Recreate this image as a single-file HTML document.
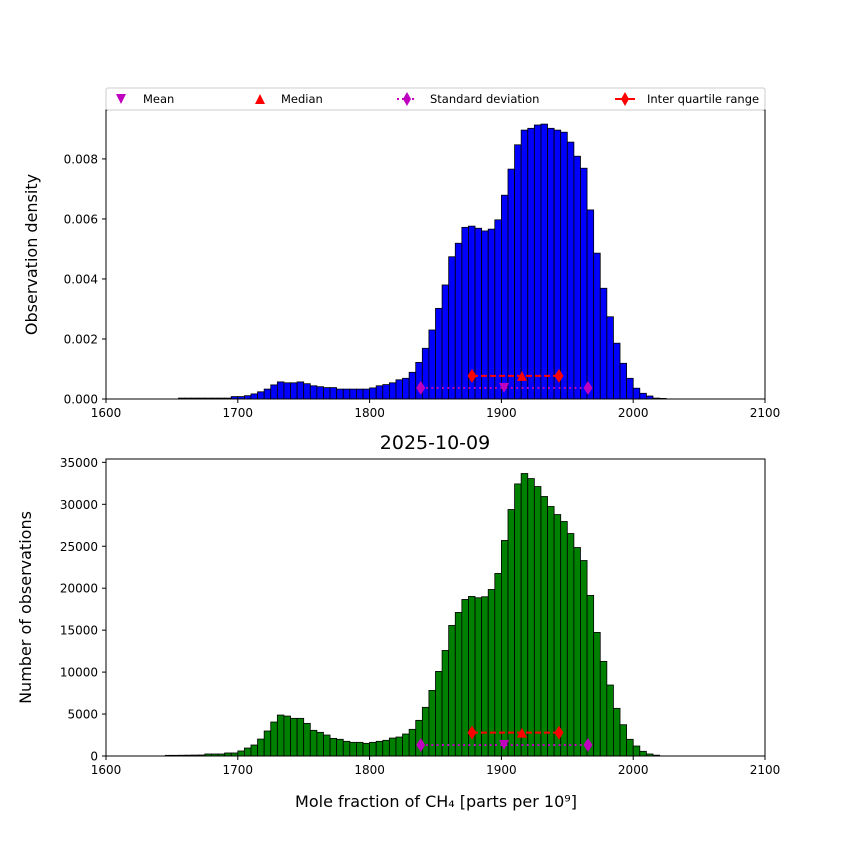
<!DOCTYPE html>
<html><head><meta charset="utf-8"><style>
body{margin:0;background:#fff;}
svg{display:block;font-family:"DejaVu Sans","Liberation Sans",sans-serif;}
</style></head><body>
<svg id="c" width="850" height="850" xmlns="http://www.w3.org/2000/svg"></svg>
<script>
const binStart = 1645;
const binWidth = 5;
const densityValues = [0,0,0.00003,0.00003,0.00003,0.00003,0.00003,0.00003,0.00003,0.00003,
0.00008,0.00008,0.00011,0.00017,0.00024,0.00033,0.00047,0.00057,0.00054,0.00054,0.00057,0.00051,0.00044,0.00041,0.00038,0.00038,0.00033,0.00033,0.00033,0.00033,0.00033,0.00037,0.00044,0.00048,0.00054,0.00064,0.00069,0.00089,0.00122,
0.00169,0.0023,0.00302,0.0038,0.00474,0.00519,0.00572,0.00576,0.00569,0.0056,0.00566,0.00597,0.00679,0.00766,0.00847,0.00896,0.00902,0.00913,0.00916,0.00902,0.00896,0.00889,0.00856,0.00809,0.00769,0.0063,0.00486,0.00369,0.00274,0.00186,0.00119,0.00069,0.00036,0.00019,0.0001,0.00003,0.00002];
const countValues = [80,80,90,100,110,120,240,240,240,360,360,600,950,1310,2020,2980,4050,4880,4760,4490,4490,3890,3060,2820,2500,2100,1990,1750,1630,1630,1510,1630,1750,1870,2140,2260,2620,3180,4250,
5800,7820,10080,12580,15560,17110,18660,19020,18860,18980,19850,21760,25690,29380,32430,33670,33070,32120,30930,29740,28780,27950,26520,24850,23300,19140,14730,11280,8460,5680,3730,1990,1190,560,240,100,0];
const xTicks = [1600,1700,1800,1900,2000,2100];
const densityTicks = [0,0.002,0.004,0.006,0.008];
const densityTickLabels = ["0.000","0.002","0.004","0.006","0.008"];
const countTicks = [0,5000,10000,15000,20000,25000,30000,35000];
const statsX = {mean:1902, median:1915.6, sdLow:1838.8, sdHigh:1965.7, iqrLow:1877.7, iqrHigh:1943.7};
const topMarkerY = {sd:0.00037, iqr:0.00077};
const botMarkerY = {sd:1310, iqr:2780};

const NS="http://www.w3.org/2000/svg";
const svg=document.getElementById('c');
function mk(t,a,p){const e=document.createElementNS(NS,t);for(const k in a)e.setAttribute(k,a[k]);(p||svg).appendChild(e);return e;}
const X0=106,X1=765;
const xs=v=>X0+(v-1600)/(500)*(X1-X0);
function panel(name,top,bot,yMax,vals,color,ticks,labels,ylabel,my){
  const ys=v=>bot-(v/yMax)*(bot-top);
  const g=mk('g',{});
  
  
  vals.forEach((v,i)=>{ if(v<=0)return;
    const x=xs(binStart+i*binWidth), w=xs(binStart+(i+1)*binWidth)-x;
    const r=mk('rect',{x:x,y:ys(v),width:w,height:bot-ys(v),fill:color,stroke:'#000','stroke-width':0.8},g);
    
    
  });
  const yS=ys(my.sd), yI=ys(my.iqr);
  mk('line',{x1:xs(statsX.sdLow),x2:xs(statsX.sdHigh),y1:yS,y2:yS,stroke:'#bf00bf','stroke-width':2,'stroke-dasharray':'2,3.3'},g);
  [statsX.sdLow,statsX.sdHigh].forEach(v=>{const x=xs(v);mk('polygon',{points:`${x-4.5},${yS} ${x},${yS-7} ${x+4.5},${yS} ${x},${yS+7}`,fill:'#bf00bf'},g);});
  const xm=xs(statsX.mean);mk('polygon',{points:`${xm-5},${yS-5} ${xm+5},${yS-5} ${xm},${yS+5}`,fill:'#bf00bf'},g);
  mk('line',{x1:xs(statsX.iqrLow),x2:xs(statsX.iqrHigh),y1:yI,y2:yI,stroke:'#f00','stroke-width':2,'stroke-dasharray':'6,3'},g);
  [statsX.iqrLow,statsX.iqrHigh].forEach(v=>{const x=xs(v);mk('polygon',{points:`${x-4.5},${yI} ${x},${yI-7} ${x+4.5},${yI} ${x},${yI+7}`,fill:'#f00'},g);});
  const xd=xs(statsX.median);mk('polygon',{points:`${xd-5},${yI+5} ${xd+5},${yI+5} ${xd},${yI-5}`,fill:'#f00'},g);
  mk('rect',{x:X0,y:top,width:X1-X0,height:bot-top,fill:'none',stroke:'#000','stroke-width':1},g);
  xTicks.forEach(t=>{const x=xs(t);mk('line',{x1:x,x2:x,y1:bot,y2:bot+4,stroke:'#000'},g);
    const tx=mk('text',{x:x,y:bot+18,'text-anchor':'middle','font-size':12},g);tx.textContent=t;});
  ticks.forEach((t,i)=>{const y=ys(t);mk('line',{x1:X0-4,x2:X0,y1:y,y2:y,stroke:'#000'},g);
    const tx=mk('text',{x:X0-8,y:y+4.5,'text-anchor':'end','font-size':12},g);tx.textContent=labels[i];});
  const yl=mk('text',{x:0,y:0,'text-anchor':'middle','font-size':16,transform:`translate(${ylabel[1]},${(top+bot)/2}) rotate(-90)`},g);
  yl.textContent=ylabel[0];
  
  
}
panel('density-histogram',110,399,0.00963,densityValues,'#0000ff',densityTicks,densityTickLabels,['Observation density',37],topMarkerY);
panel('count-histogram',459,756,35400,countValues,'#008000',countTicks,countTicks.map(String),['Number of observations',31],botMarkerY);

const title=mk('text',{x:435,y:449,'text-anchor':'middle','font-size':19});title.textContent='2025-10-09';


const xl=mk('text',{x:436,y:807,'text-anchor':'middle','font-size':16});xl.textContent='Mole fraction of CH₄ [parts per 10⁹]';


const lg=mk('rect',{x:106,y:88,width:659,height:22,rx:2,fill:'#fff',stroke:'#ccc'});


mk('polygon',{points:'116,94 126,94 121,104',fill:'#bf00bf'});
mk('polygon',{points:'255,104 265,104 260,94',fill:'#f00'});
mk('line',{x1:397,x2:417,y1:99,y2:99,stroke:'#bf00bf','stroke-width':2,'stroke-dasharray':'2,3'});
mk('polygon',{points:'403,99 407,92 411,99 407,106',fill:'#bf00bf'});
mk('line',{x1:615,x2:635,y1:99,y2:99,stroke:'#f00','stroke-width':2});
mk('polygon',{points:'621,99 625,92 629,99 625,106',fill:'#f00'});
[['Mean',143],['Median',281],['Standard deviation',430],['Inter quartile range',647]].forEach(([t,x])=>{
 const e=mk('text',{x:x,y:103,'font-size':11.5});e.textContent=t;
 
 
});
</script>
</body></html>
